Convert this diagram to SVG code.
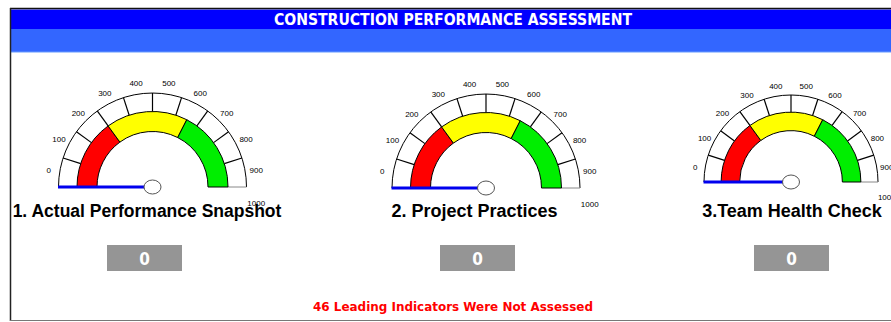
<svg xmlns="http://www.w3.org/2000/svg" width="891" height="322" viewBox="0 0 891 322">
<defs>
<style>
.band{fill:#fff;stroke:#000;stroke-width:1}
.tick{stroke:#000;stroke-width:1.2}
.base{stroke:#888;stroke-width:1}
.seg{stroke:#000;stroke-width:1}
.red{fill:#ff0000}
.yel{fill:#ffff00}
.grn{fill:#00ee00}
.lbl{font-family:"Liberation Sans",Arial,sans-serif;font-size:8px;fill:#000;text-anchor:middle}
.needle{stroke:#0000ee;stroke-width:3}
.hub{fill:#fff;stroke:#555;stroke-width:1}
.title{font-family:"Liberation Sans",Arial,sans-serif;font-size:18px;font-weight:bold;fill:#000;text-anchor:middle}
.box{fill:#959595}
.val{font-family:"DejaVu Sans Condensed","DejaVu Sans",sans-serif;font-size:17px;font-weight:bold;fill:#fff;text-anchor:middle}
</style>
</defs>
<rect x="0" y="0" width="891" height="322" fill="#fff"/>
<g id="frame">
<rect x="10" y="9.5" width="881" height="19.5" fill="#0000ff"/>
<rect x="10" y="29" width="881" height="23" fill="#3366ff"/>
<rect x="10" y="51.5" width="881" height="1" fill="#6699ff"/>
<line x1="10" y1="8.5" x2="891" y2="8.5" stroke="#111" stroke-width="1.5"/>
<line x1="10.5" y1="8" x2="10.5" y2="321" stroke="#222" stroke-width="1.5"/>
<line x1="10" y1="320.5" x2="891" y2="320.5" stroke="#777" stroke-width="1.2"/>
<text x="453" y="24.5" font-family="'DejaVu Sans Condensed','DejaVu Sans',sans-serif" font-size="16px" font-weight="bold" fill="#fff" text-anchor="middle" textLength="358" lengthAdjust="spacingAndGlyphs">CONSTRUCTION PERFORMANCE ASSESSMENT</text>
</g>

<g id="gauge1" transform="translate(152.5,187)">
<path class="band" d="M -94 0 A 94 94 0 0 1 94 0"/>
<line class="base" x1="-94" y1="0" x2="-75.5" y2="0"/>
<line class="base" x1="75.5" y1="0" x2="94" y2="0"/>
<g class="tick">
<line x1="71.80" y1="-23.33" x2="89.40" y2="-29.05"/>
<line x1="61.08" y1="-44.38" x2="76.05" y2="-55.25"/>
<line x1="44.38" y1="-61.08" x2="55.25" y2="-76.05"/>
<line x1="23.33" y1="-71.80" x2="29.05" y2="-89.40"/>
<line x1="0" y1="-75.5" x2="0" y2="-94"/>
<line x1="-23.33" y1="-71.80" x2="-29.05" y2="-89.40"/>
<line x1="-44.38" y1="-61.08" x2="-55.25" y2="-76.05"/>
<line x1="-61.08" y1="-44.38" x2="-76.05" y2="-55.25"/>
<line x1="-71.80" y1="-23.33" x2="-89.40" y2="-29.05"/>
</g>
<path class="seg red" d="M -75.5 0 A 75.5 75.5 0 0 1 -44.38 -61.08 L -32.62 -44.90 A 55.5 55.5 0 0 0 -55.5 0 Z"/>
<path class="seg yel" d="M -44.38 -61.08 A 75.5 75.5 0 0 1 34.28 -67.27 L 25.20 -49.45 A 55.5 55.5 0 0 0 -32.62 -44.90 Z"/>
<path class="seg grn" d="M 34.28 -67.27 A 75.5 75.5 0 0 1 75.5 0 L 55.5 0 A 55.5 55.5 0 0 0 25.20 -49.45 Z"/>
<g class="lbl">
<text x="-103.7" y="-13.6">0</text>
<text x="-93.6" y="-44.9">100</text>
<text x="-74.2" y="-71.4">200</text>
<text x="-47.7" y="-90.8">300</text>
<text x="-16.4" y="-100.9">400</text>
<text x="16.4" y="-100.9">500</text>
<text x="47.7" y="-90.8">600</text>
<text x="74.2" y="-71.4">700</text>
<text x="93.6" y="-44.9">800</text>
<text x="103.7" y="-13.6">900</text>
<text x="103.7" y="19.2">1000</text>
</g>
<line class="needle" x1="-94.5" y1="0" x2="-8" y2="0"/>
<ellipse class="hub" cx="0" cy="0" rx="8.5" ry="7"/>
</g>

<g id="gauge2" transform="translate(486,188)">
<path class="band" d="M -94 0 A 94 94 0 0 1 94 0"/>
<line class="base" x1="-94" y1="0" x2="-75.5" y2="0"/>
<line class="base" x1="75.5" y1="0" x2="94" y2="0"/>
<g class="tick">
<line x1="71.80" y1="-23.33" x2="89.40" y2="-29.05"/>
<line x1="61.08" y1="-44.38" x2="76.05" y2="-55.25"/>
<line x1="44.38" y1="-61.08" x2="55.25" y2="-76.05"/>
<line x1="23.33" y1="-71.80" x2="29.05" y2="-89.40"/>
<line x1="0" y1="-75.5" x2="0" y2="-94"/>
<line x1="-23.33" y1="-71.80" x2="-29.05" y2="-89.40"/>
<line x1="-44.38" y1="-61.08" x2="-55.25" y2="-76.05"/>
<line x1="-61.08" y1="-44.38" x2="-76.05" y2="-55.25"/>
<line x1="-71.80" y1="-23.33" x2="-89.40" y2="-29.05"/>
</g>
<path class="seg red" d="M -75.5 0 A 75.5 75.5 0 0 1 -44.38 -61.08 L -32.62 -44.90 A 55.5 55.5 0 0 0 -55.5 0 Z"/>
<path class="seg yel" d="M -44.38 -61.08 A 75.5 75.5 0 0 1 34.28 -67.27 L 25.20 -49.45 A 55.5 55.5 0 0 0 -32.62 -44.90 Z"/>
<path class="seg grn" d="M 34.28 -67.27 A 75.5 75.5 0 0 1 75.5 0 L 55.5 0 A 55.5 55.5 0 0 0 25.20 -49.45 Z"/>
<g class="lbl">
<text x="-103.7" y="-13.6">0</text>
<text x="-93.6" y="-44.9">100</text>
<text x="-74.2" y="-71.4">200</text>
<text x="-47.7" y="-90.8">300</text>
<text x="-16.4" y="-100.9">400</text>
<text x="16.4" y="-100.9">500</text>
<text x="47.7" y="-90.8">600</text>
<text x="74.2" y="-71.4">700</text>
<text x="93.6" y="-44.9">800</text>
<text x="103.7" y="-13.6">900</text>
<text x="103.7" y="19.2">1000</text>
</g>
<line class="needle" x1="-94.5" y1="0" x2="-8" y2="0"/>
<ellipse class="hub" cx="0" cy="0" rx="8.5" ry="7"/>
</g>

<g id="gauge3" transform="translate(791,182)">
<path class="band" d="M -87 0 A 87 87 0 0 1 87 0"/>
<line class="base" x1="-87" y1="0" x2="-69.88" y2="0"/>
<line class="base" x1="69.88" y1="0" x2="87" y2="0"/>
<g class="tick">
<line x1="66.46" y1="-21.59" x2="82.74" y2="-26.88"/>
<line x1="56.53" y1="-41.07" x2="70.38" y2="-51.14"/>
<line x1="41.07" y1="-56.53" x2="51.14" y2="-70.38"/>
<line x1="21.59" y1="-66.46" x2="26.88" y2="-82.74"/>
<line x1="0" y1="-69.88" x2="0" y2="-87"/>
<line x1="-21.59" y1="-66.46" x2="-26.88" y2="-82.74"/>
<line x1="-41.07" y1="-56.53" x2="-51.14" y2="-70.38"/>
<line x1="-56.53" y1="-41.07" x2="-70.38" y2="-51.14"/>
<line x1="-66.46" y1="-21.59" x2="-82.74" y2="-26.88"/>
</g>
<path class="seg red" d="M -69.88 0 A 69.88 69.88 0 0 1 -41.07 -56.53 L -30.19 -41.56 A 51.37 51.37 0 0 0 -51.37 0 Z"/>
<path class="seg yel" d="M -41.07 -56.53 A 69.88 69.88 0 0 1 31.72 -62.26 L 23.32 -45.77 A 51.37 51.37 0 0 0 -30.19 -41.56 Z"/>
<path class="seg grn" d="M 31.72 -62.26 A 69.88 69.88 0 0 1 69.88 0 L 51.37 0 A 51.37 51.37 0 0 0 23.32 -45.77 Z"/>
<g class="lbl">
<text x="-95.8" y="-12.4">0</text>
<text x="-86.4" y="-41.2">100</text>
<text x="-68.6" y="-65.8">200</text>
<text x="-44.0" y="-83.6">300</text>
<text x="-15.2" y="-93.0">400</text>
<text x="15.2" y="-93.0">500</text>
<text x="44.0" y="-83.6">600</text>
<text x="68.6" y="-65.8">700</text>
<text x="86.4" y="-41.2">800</text>
<text x="95.8" y="-12.4">900</text>
<text x="95.8" y="18.0">1000</text>
</g>
<line class="needle" x1="-87.5" y1="0" x2="-8" y2="0"/>
<ellipse class="hub" cx="0" cy="0" rx="8.5" ry="7"/>
</g>

<g id="title1"><text class="title" x="147" y="217" style="font-size:17.5px">1. Actual Performance Snapshot</text></g>
<g id="title2"><text class="title" x="474.5" y="217">2. Project Practices</text></g>
<g id="title3"><text class="title" x="792" y="217">3.Team Health Check</text></g>

<g id="value1"><rect class="box" x="107" y="245" width="75" height="26"/><text class="val" x="144.5" y="264.5">0</text></g>
<g id="value2"><rect class="box" x="440" y="245" width="75" height="26"/><text class="val" x="477.5" y="264.5">0</text></g>
<g id="value3"><rect class="box" x="754" y="245" width="75" height="26"/><text class="val" x="791.5" y="264.5">0</text></g>

<g id="note"><text x="453" y="310.5" font-family="'DejaVu Sans Condensed','DejaVu Sans',sans-serif" font-size="13px" font-weight="bold" fill="#ff0000" text-anchor="middle" textLength="280" lengthAdjust="spacingAndGlyphs">46 Leading Indicators Were Not Assessed</text></g>
</svg>
